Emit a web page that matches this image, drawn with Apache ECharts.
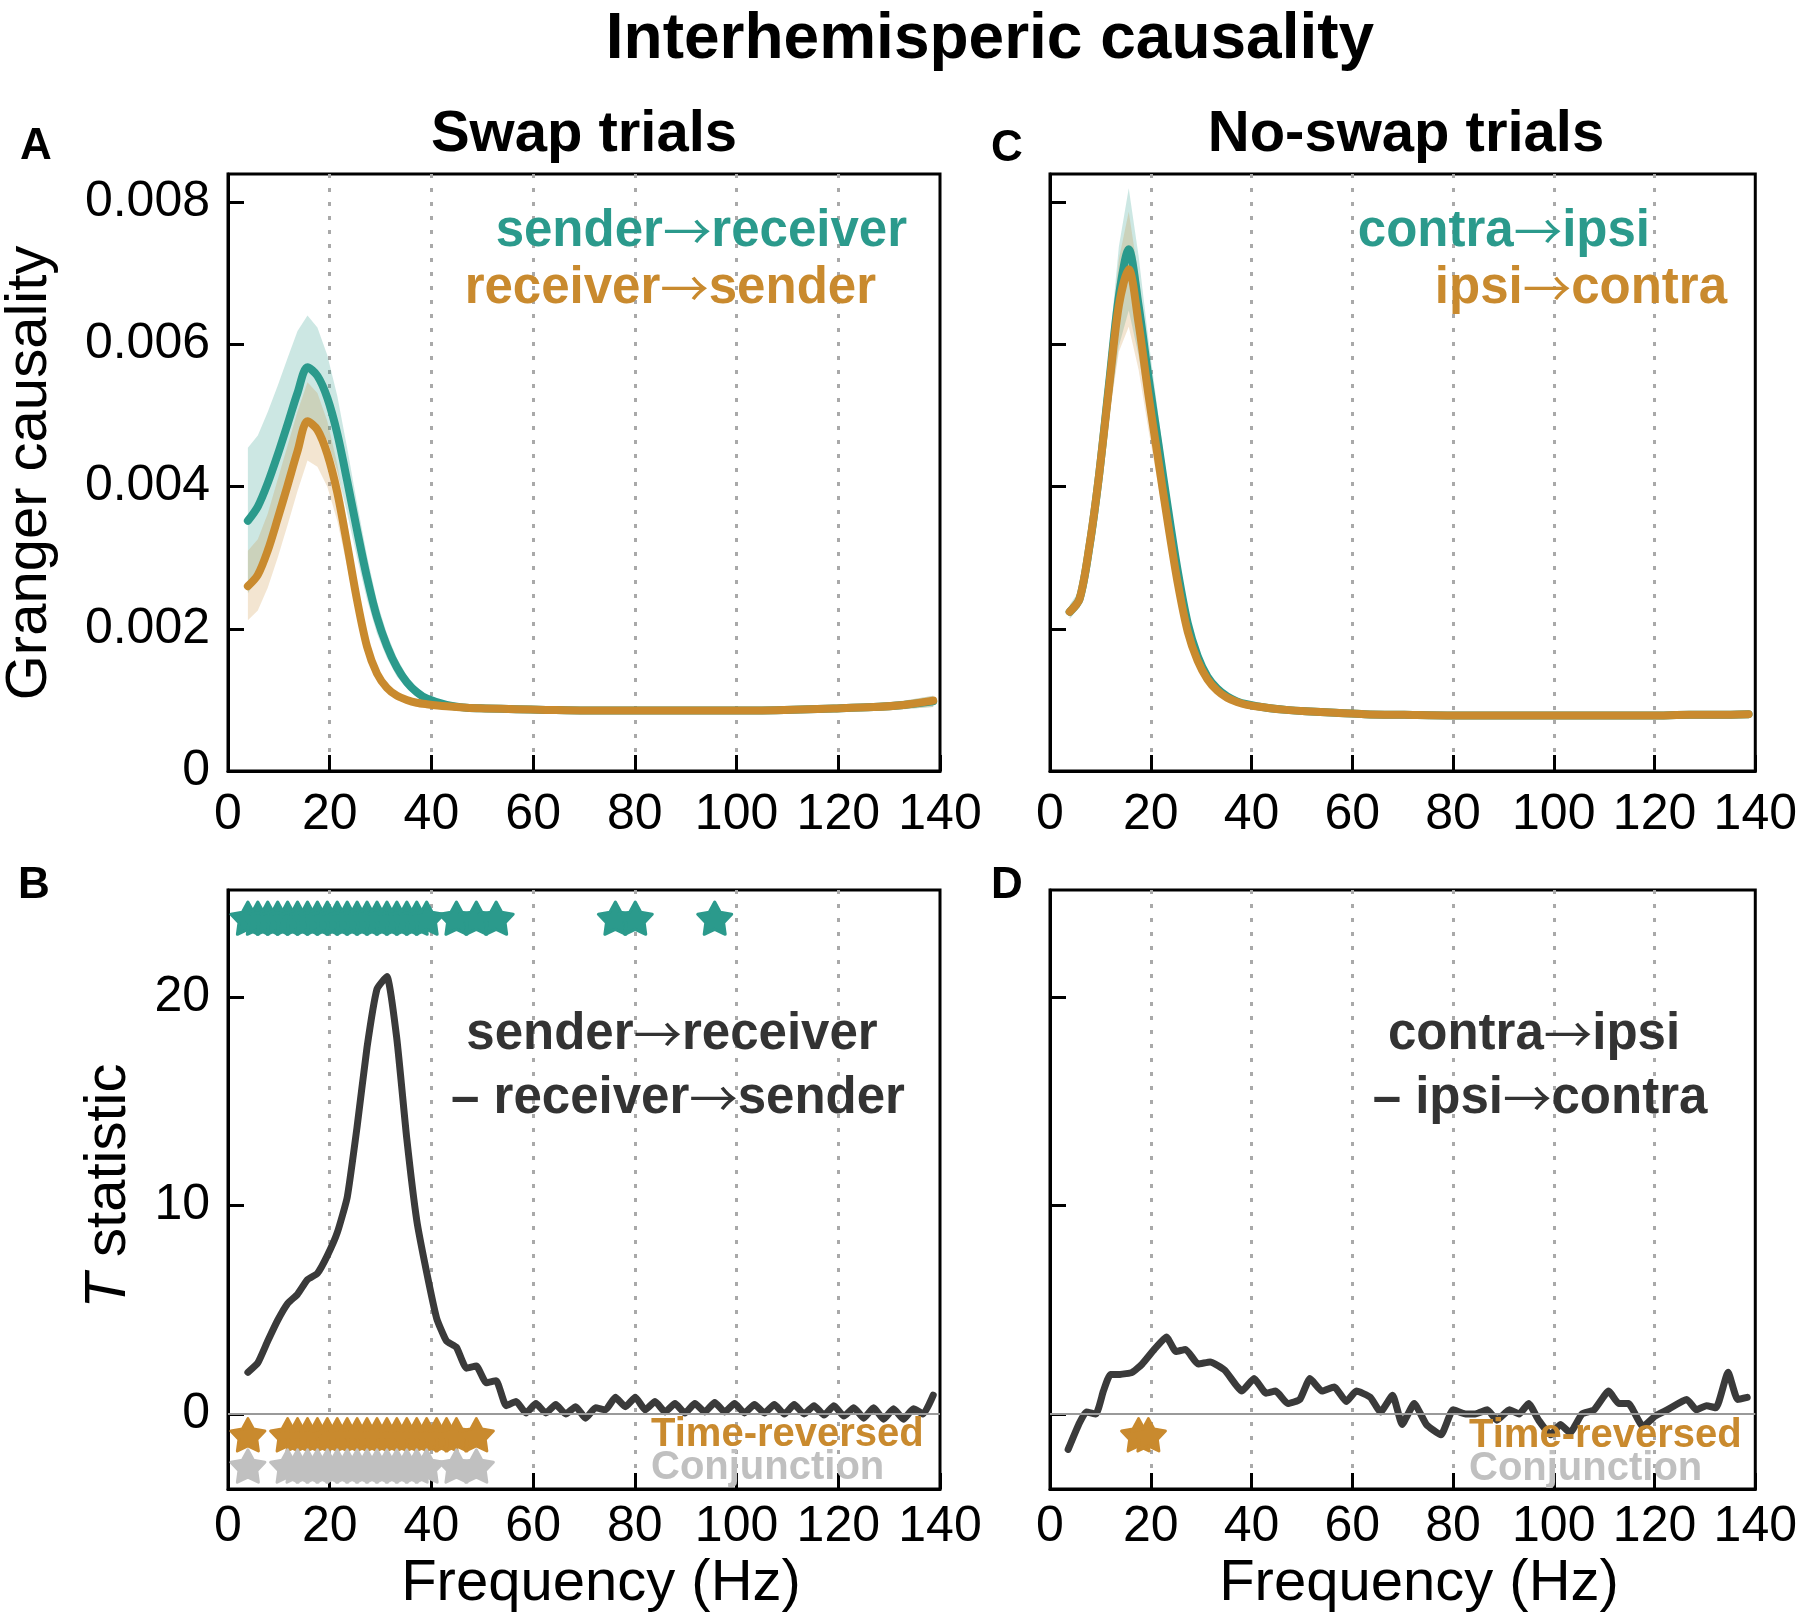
<!DOCTYPE html>
<html><head><meta charset="utf-8">
<script src="https://cdn.jsdelivr.net/npm/echarts@6/dist/echarts.min.js"></script>
<style>html,body{margin:0;padding:0;background:#fff}#c{width:1800px;height:1622px}</style>
</head><body><div id="c"></div>
<script>
const FONT = '"Liberation Sans", Arial, Helvetica, sans-serif';
const TEAL = '#2b9a8c', ORANGE = '#c98a2e', DARK = '#3a3a3a', CONJ = '#c0c0c0';

// tick labels
const xTicks = [0, 20, 40, 60, 80, 100, 120, 140];
const yTicksGC = [0, 0.002, 0.004, 0.006, 0.008];
const yTicksT = [0, 10, 20];

// spectra frequency grid (Hz)
const fSpec = [3.91, 5.86, 7.81, 9.77, 11.72, 13.67, 15.63, 17.58, 19.53, 21.48, 23.44, 25.39, 27.34, 29.30, 31.25, 33.20, 35.16, 37.11, 39.06, 42.97, 46.88, 50.78, 56.64, 62.50, 70.31, 80.08, 89.84, 99.61, 109.38, 119.14, 126.95, 132.81, 138.67];

// Panel A: swap trials
const swapSR   = [0.00352,0.00372,0.00405,0.00445,0.00488,0.00532,0.00568,0.00556,0.00525,0.00475,0.00408,0.00338,0.00272,0.00216,0.00176,0.00146,0.00125,0.00111,0.00102,0.00093,0.00089,0.00088,0.00087,0.00086,0.00085,0.00085,0.00085,0.00085,0.00086,0.00088,0.00090,0.00093,0.00098];
const swapSRLo = [0.00250,0.00272,0.00305,0.00348,0.00395,0.00445,0.00492,0.00488,0.00465,0.00422,0.00362,0.00300,0.00241,0.00193,0.00159,0.00133,0.00116,0.00104,0.00097,0.00089,0.00086,0.00085,0.00084,0.00083,0.00082,0.00082,0.00082,0.00082,0.00083,0.00084,0.00085,0.00087,0.00090];
const swapSRHi = [0.00455,0.00472,0.00505,0.00542,0.00581,0.00619,0.00641,0.00624,0.00585,0.00528,0.00454,0.00376,0.00303,0.00239,0.00193,0.00159,0.00134,0.00118,0.00107,0.00097,0.00092,0.00091,0.00090,0.00089,0.00088,0.00088,0.00088,0.00088,0.00089,0.00092,0.00095,0.00099,0.00106];
const swapRS   = [0.00260,0.00276,0.00310,0.00355,0.00402,0.00450,0.00492,0.00480,0.00446,0.00392,0.00318,0.00240,0.00175,0.00137,0.00117,0.00106,0.00100,0.00096,0.00094,0.00091,0.00089,0.00088,0.00087,0.00086,0.00085,0.00085,0.00085,0.00085,0.00086,0.00088,0.00090,0.00093,0.00099];
const swapRSLo = [0.00212,0.00226,0.00258,0.00300,0.00346,0.00394,0.00437,0.00428,0.00400,0.00352,0.00287,0.00218,0.00161,0.00128,0.00111,0.00101,0.00096,0.00093,0.00091,0.00088,0.00086,0.00085,0.00084,0.00083,0.00082,0.00082,0.00082,0.00082,0.00083,0.00084,0.00085,0.00087,0.00090];
const swapRSHi = [0.00310,0.00326,0.00362,0.00410,0.00458,0.00506,0.00547,0.00532,0.00492,0.00432,0.00349,0.00262,0.00189,0.00146,0.00123,0.00111,0.00104,0.00099,0.00097,0.00094,0.00092,0.00091,0.00090,0.00089,0.00088,0.00088,0.00088,0.00088,0.00089,0.00092,0.00095,0.00099,0.00106];

// Panel C: no-swap trials
const noswapCI   = [0.00224,0.00242,0.00315,0.00418,0.00545,0.00668,0.00734,0.00655,0.00555,0.00462,0.00368,0.00280,0.00208,0.00162,0.00133,0.00116,0.00105,0.00098,0.00094,0.00089,0.00086,0.00084,0.00082,0.00080,0.00079,0.00078,0.00078,0.00078,0.00078,0.00078,0.00079,0.00079,0.00080];
const noswapCILo = [0.00214,0.00230,0.00295,0.00388,0.00498,0.00598,0.00648,0.00585,0.00502,0.00422,0.00338,0.00260,0.00195,0.00153,0.00127,0.00111,0.00101,0.00095,0.00091,0.00087,0.00084,0.00082,0.00080,0.00078,0.00077,0.00076,0.00076,0.00076,0.00076,0.00076,0.00077,0.00077,0.00078];
const noswapCIHi = [0.00234,0.00254,0.00335,0.00448,0.00592,0.00738,0.00820,0.00725,0.00608,0.00502,0.00398,0.00300,0.00221,0.00171,0.00139,0.00121,0.00109,0.00101,0.00097,0.00091,0.00088,0.00086,0.00084,0.00082,0.00081,0.00080,0.00080,0.00080,0.00080,0.00080,0.00081,0.00081,0.00082];
const noswapIC   = [0.00224,0.00242,0.00316,0.00418,0.00540,0.00655,0.00706,0.00630,0.00530,0.00438,0.00347,0.00263,0.00196,0.00155,0.00129,0.00113,0.00103,0.00097,0.00093,0.00089,0.00086,0.00084,0.00082,0.00080,0.00079,0.00078,0.00078,0.00078,0.00078,0.00078,0.00079,0.00079,0.00080];
const noswapICLo = [0.00216,0.00232,0.00298,0.00390,0.00496,0.00590,0.00625,0.00565,0.00480,0.00402,0.00320,0.00245,0.00185,0.00147,0.00123,0.00108,0.00099,0.00094,0.00090,0.00087,0.00084,0.00082,0.00080,0.00078,0.00077,0.00076,0.00076,0.00076,0.00076,0.00076,0.00077,0.00077,0.00078];
const noswapICHi = [0.00232,0.00252,0.00334,0.00446,0.00584,0.00720,0.00787,0.00695,0.00580,0.00474,0.00374,0.00281,0.00207,0.00163,0.00135,0.00118,0.00107,0.00100,0.00096,0.00091,0.00088,0.00086,0.00084,0.00082,0.00081,0.00080,0.00080,0.00080,0.00080,0.00080,0.00081,0.00081,0.00082];

// Panel B: T statistic, swap trials (frequency grid 1.953 Hz)
const fT = [3.91,5.86,7.81,9.77,11.72,13.67,15.63,17.58,19.53,21.48,23.44,25.39,27.34,29.30,31.25,33.20,35.16,37.11,39.06,41.02,42.97,44.92,46.88,48.83,50.78,52.73,54.69,56.64,58.59,60.55,62.50,64.45,66.41,68.36,70.31,72.27,74.22,76.17,78.13,80.08,82.03,83.98,85.94,87.89,89.84,91.80,93.75,95.70,97.66,99.61,101.56,103.52,105.47,107.42,109.38,111.33,113.28,115.23,117.19,119.14,121.09,123.05,125.00,126.95,128.91,130.86,132.81,134.77,136.72,138.67];
const swapT = [2.0,2.45,3.5,4.5,5.3,5.75,6.45,6.75,7.6,8.7,10.4,13.8,17.6,20.4,21.0,18.0,13.2,9.3,6.8,4.6,3.5,3.2,2.2,2.3,1.5,1.6,0.4,0.6,0.05,0.5,0.05,0.45,0.0,0.35,-0.2,0.3,0.2,0.8,0.35,0.8,0.2,0.6,0.1,0.5,0.05,0.5,0.1,0.55,0.1,0.5,0.05,0.45,0.05,0.45,0.0,0.45,0.0,0.4,-0.05,0.4,-0.1,0.3,-0.2,0.3,-0.25,0.25,-0.25,0.25,0.0,0.9];

// Panel D: T statistic, no-swap trials
const fTD = [3.6,5.7,7.2,9.1,10.6,12,13.9,16.3,18.3,20.7,23.1,25,26.9,29.4,31.8,34.7,38.1,40.5,42.9,44.8,47.2,49.6,51.6,54,56.4,58.8,60.8,63.6,65.6,68,69.9,72.3,74.7,77.6,80,82.5,84.4,86.8,88.7,91.2,93.1,95,97,99.4,101.3,103.2,105.6,108,110.9,112.9,114.8,117.7,120.1,122.5,126.4,128.3,130.3,132.2,134.6,136.5,138.4];
const noswapT = [-1.7,-0.5,0.1,0.0,1.1,1.9,1.9,2.0,2.4,3.1,3.7,3.0,3.1,2.4,2.5,2.1,1.1,1.7,1.0,1.1,0.5,0.7,1.7,1.1,1.3,0.6,1.1,0.8,0.1,0.9,-0.5,0.5,-0.5,-1.0,0.2,0.0,0.0,0.2,-0.3,0.2,0.0,0.5,-0.3,-1.0,-0.5,-0.9,0.0,0.2,1.1,0.5,0.5,-0.6,-0.1,0.2,0.7,0.2,0.4,0.3,2.0,0.7,0.8];

// significance stars (Hz) and their rows (T value)
const swapSigStars  = [3.91,5.86,7.81,9.77,11.72,13.67,15.63,17.58,19.53,21.48,23.44,25.39,27.34,29.30,31.25,33.20,35.16,37.11,39.06,44.92,48.83,52.73,76.17,80.08,95.70];
const swapTRStars   = [3.91,11.72,13.67,15.63,17.58,19.53,21.48,23.44,25.39,27.34,29.30,31.25,33.20,35.16,37.11,39.06,41.02,42.97,44.92,48.83];
const swapConjStars = [3.91,11.72,13.67,15.63,17.58,19.53,21.48,23.44,25.39,27.34,29.30,31.25,33.20,35.16,37.11,39.06,44.92,48.83];
const noswapTRStars = [17.58,19.53];
const rowSig = 23.8, rowTR = -1.0, rowConj = -2.5;

const STAR = 'path://M50,0L65.5,28.7L97.55,34.55L75,58.3L79.39,90.45L50,76.5L20.61,90.45L25,58.3L2.45,34.55L34.5,28.7Z';

const grids = [
  {left: 228, top: 174, width: 712, height: 597},
  {left: 1050, top: 174, width: 712, height: 597},
  {left: 228, top: 890, width: 712, height: 599},
  {left: 1050, top: 890, width: 712, height: 599}
].map(g => Object.assign(g, {show: true, borderColor: '#000', borderWidth: 3, backgroundColor: 'rgba(0,0,0,0)'}));

function xAx(i, margin) {
  return {
    type: 'value', gridIndex: i, min: 0, max: 140, interval: 20,
    axisLine: {show: true, onZero: false, lineStyle: {color: '#000', width: 3}},
    axisTick: {show: true, inside: true, length: 16, lineStyle: {color: '#000', width: 3}},
    axisLabel: {show: true, color: '#000', fontSize: 50, fontFamily: FONT, margin: margin, showMinLabel: true, showMaxLabel: true, customValues: xTicks},
    splitLine: {show: true, showMinLine: false, showMaxLine: false, lineStyle: {color: '#a9a9a9', width: 3, type: [4, 10]}}
  };
}
function yAx(i, min, max, ticks, labels) {
  return {
    type: 'value', gridIndex: i, min: min, max: max,
    axisLine: {show: true, onZero: false, lineStyle: {color: '#000', width: 3}},
    axisTick: {show: true, inside: true, length: 16, lineStyle: {color: '#000', width: 3}, customValues: ticks},
    axisLabel: {show: labels, color: '#000', fontSize: 50, fontFamily: FONT, margin: 18, customValues: ticks},
    splitLine: {show: false}
  };
}

function pairs(xs, ys) { return xs.map((x, i) => [x, ys[i]]); }

function band(idx, xs, lo, hi, color) {
  return {
    type: 'custom', xAxisIndex: idx, yAxisIndex: idx, silent: true, z: 1, clip: true,
    data: [[xs[0], lo[0]]],
    renderItem: function (params, api) {
      const pts = [];
      for (let i = 0; i < xs.length; i++) pts.push(api.coord([xs[i], hi[i]]));
      for (let i = xs.length - 1; i >= 0; i--) pts.push(api.coord([xs[i], lo[i]]));
      return {type: 'polygon', shape: {points: pts}, style: {fill: color}};
    }
  };
}
function line(idx, xs, ys, color, width, smooth, extra) {
  return Object.assign({
    type: 'line', xAxisIndex: idx, yAxisIndex: idx, data: pairs(xs, ys),
    showSymbol: false, symbol: 'none', smooth: smooth, z: 3,
    lineStyle: {color: color, width: width, join: 'round', cap: 'round'}
  }, extra || {});
}
function stars(idx, xs, row, color) {
  return {
    type: 'scatter', xAxisIndex: idx, yAxisIndex: idx, z: 4,
    data: xs.map(x => [x, row]), symbol: STAR, symbolSize: 34, symbolKeepAspect: true,
    itemStyle: {color: color, borderColor: color, borderWidth: 3, borderJoin: 'round', opacity: 1}
  };
}
const zeroLine = {silent: true, symbol: 'none', label: {show: false}, animation: false,
  lineStyle: {color: '#9a9a9a', width: 2, type: 'solid'}, data: [{yAxis: 0}]};

const ARROW_FONT = '"Noto Sans CJK SC", "DejaVu Sans", sans-serif';
function txt(text, x, y, size, color, weight, align, rot, rich) {
  const st = {text: text, fill: color, fontSize: size, fontWeight: weight, fontFamily: FONT,
    textAlign: align, align: align, textVerticalAlign: 'middle', verticalAlign: 'middle'};
  if (rich) st.rich = rich;
  return {type: 'text', x: x, y: y, rotation: rot || 0, z: 100, silent: true, style: st};
}
function arrowTxt(text, x, y, size, color, align) {
  const rich = {
    w: {fontSize: size, fontWeight: 'bold', fontFamily: FONT, fill: color},
    a: {fontSize: size * 0.95, fontWeight: 'normal', fontFamily: ARROW_FONT, fill: color}
  };
  const s = '{w|' + text.replace('\u2192', '}{a|\u2192}{w|') + '}';
  return txt(s, x, y, size, color, 'bold', align, 0, rich);
}

const graphics = [
  txt('Interhemisperic causality', 990, 40, 64, '#000', 'bold', 'center'),
  txt('Swap trials', 584, 135, 58, '#000', 'bold', 'center'),
  txt('No-swap trials', 1406, 135, 58, '#000', 'bold', 'center'),
  txt('A', 36, 147, 44, '#000', 'bold', 'center'),
  txt('C', 1007, 149, 44, '#000', 'bold', 'center'),
  txt('B', 34, 886, 44, '#000', 'bold', 'center'),
  txt('D', 1007, 886, 44, '#000', 'bold', 'center'),
  arrowTxt('sender\u2192receiver', 907, 232, 51, TEAL, 'right'),
  arrowTxt('receiver\u2192sender', 876, 289, 51, ORANGE, 'right'),
  arrowTxt('contra\u2192ipsi', 1650, 232, 51, TEAL, 'right'),
  arrowTxt('ipsi\u2192contra', 1727, 289, 51, ORANGE, 'right'),
  arrowTxt('sender\u2192receiver', 672, 1035, 51, '#333', 'center'),
  arrowTxt('\u2013 receiver\u2192sender', 678, 1099, 51, '#333', 'center'),
  arrowTxt('contra\u2192ipsi', 1534, 1035, 51, '#333', 'center'),
  arrowTxt('\u2013 ipsi\u2192contra', 1540, 1099, 51, '#333', 'center'),
  txt('Time-reversed', 651, 1435, 40, ORANGE, 'bold', 'left'),
  txt('Conjunction', 651, 1468, 40, CONJ, 'bold', 'left'),
  txt('Time-reversed', 1469, 1436, 40, ORANGE, 'bold', 'left'),
  txt('Conjunction', 1469, 1469, 40, CONJ, 'bold', 'left'),
  txt('Granger causality', 30, 473, 58, '#000', 'normal', 'center', Math.PI / 2),
  txt('{i|T} statistic', 109, 1186, 58, '#000', 'normal', 'center', Math.PI / 2,
      {i: {fontStyle: 'italic', fontSize: 58, fontFamily: FONT, fill: '#000'}}),
  txt('Frequency (Hz)', 601, 1584, 58, '#000', 'normal', 'center'),
  txt('Frequency (Hz)', 1419, 1584, 58, '#000', 'normal', 'center')
];

const option = {
  animation: false,
  backgroundColor: '#fff',
  grid: grids,
  xAxis: [xAx(0, 19), xAx(1, 19), xAx(2, 13), xAx(3, 13)],
  yAxis: [
    yAx(0, 0, 0.0084, yTicksGC, true),
    yAx(1, 0, 0.0084, yTicksGC, false),
    yAx(2, -3.6, 25.15, yTicksT, true),
    yAx(3, -3.6, 25.15, yTicksT, false)
  ],
  series: [
    band(0, fSpec, swapSRLo, swapSRHi, 'rgba(43,154,140,0.24)'),
    band(0, fSpec, swapRSLo, swapRSHi, 'rgba(201,138,46,0.22)'),
    line(0, fSpec, swapSR, TEAL, 8, 0.3),
    line(0, fSpec, swapRS, ORANGE, 8, 0.3),
    band(1, fSpec, noswapCILo, noswapCIHi, 'rgba(43,154,140,0.24)'),
    band(1, fSpec, noswapICLo, noswapICHi, 'rgba(201,138,46,0.22)'),
    line(1, fSpec, noswapCI, TEAL, 8, 0.3),
    line(1, fSpec, noswapIC, ORANGE, 8, 0.3),
    line(2, fT, swapT, DARK, 7, 0.15, {markLine: zeroLine}),
    stars(2, swapSigStars, rowSig, TEAL),
    stars(2, swapTRStars, rowTR, ORANGE),
    stars(2, swapConjStars, rowConj, CONJ),
    line(3, fTD, noswapT, DARK, 7, 0.15, {markLine: zeroLine}),
    stars(3, noswapTRStars, rowTR, ORANGE)
  ],
  graphic: graphics
};

const chart = echarts.init(document.getElementById('c'), null, {renderer: 'canvas'});
chart.setOption(option);
</script>
</body></html>
